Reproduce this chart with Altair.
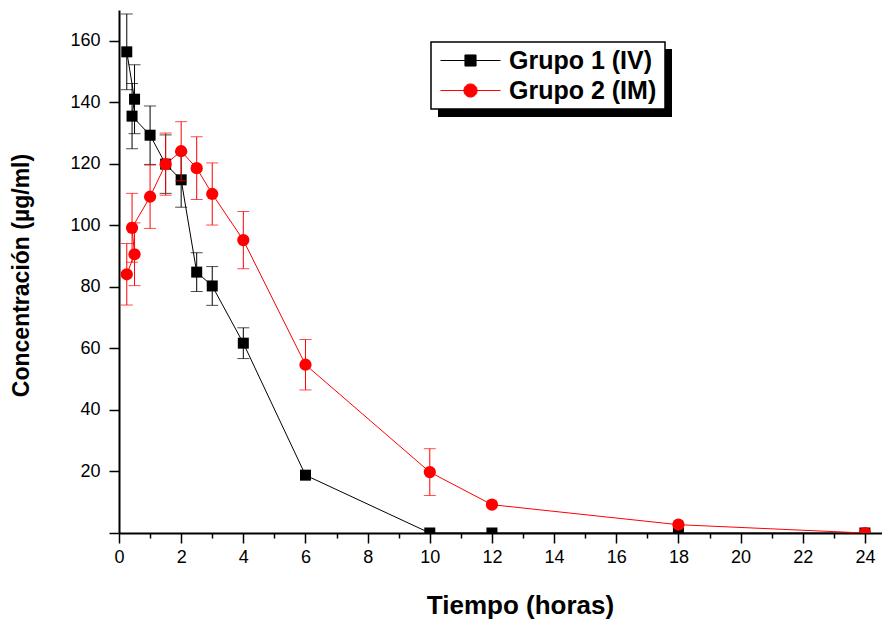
import altair as alt
import pandas as pd

# ---- data ----
time_h = [0.25, 0.5, 0.42, 1, 1.5, 2, 2.5, 3, 4, 6, 10, 12, 18, 24]
g1_mean = [156.4, 141.0, 135.5, 129.3, 119.9, 114.8, 84.8, 80.3, 61.7, 18.8, 0, 0, 0, 0]
g1_err = [12.3, 11.2, 10.6, 9.5, 9.5, 8.9, 6.3, 6.3, 5.0, 0, 0, 0, 0, 0]
g2_mean = [84.1, 90.6, 99.2, 109.3, 119.9, 124.1, 118.6, 110.2, 95.2, 54.7, 19.8, 9.2, 2.7, 0]
g2_err = [10.0, 10.2, 11.2, 10.3, 10.1, 9.6, 10.2, 10.1, 9.3, 8.2, 7.6, 0, 0, 0]
groups = ["Grupo 1 (IV)", "Grupo 2 (IM)"]
colors = ["black", "red"]
x_ticks = list(range(0, 25))
y_ticks = list(range(0, 171, 10))

FONT = "Liberation Sans"

rows = []
for g, means, errs in [(groups[0], g1_mean, g1_err), (groups[1], g2_mean, g2_err)]:
    for i, (t, m, e) in enumerate(zip(time_h, means, errs)):
        rows.append({"t": t, "mean": m, "err": e, "lo": m - e, "hi": m + e,
                     "group": g, "idx": i})
df = pd.DataFrame(rows)

x_enc = alt.X("t:Q", scale=alt.Scale(domain=[0, 24.55], nice=False, zero=False),
              axis=alt.Axis(values=x_ticks, title="Tiempo (horas)",
                            labelExpr="datum.value % 2 === 0 ? datum.label : ''",
                            tickSize={"condition": {"test": "datum.value % 2 === 0", "value": 10}, "value": 5},
                            labelPadding=5, labelOverlap=False, labelFlush=False,
                            titleFontSize=26, titleX=401, titleY=80,
                            titleAlign="center", titleBaseline="alphabetic"))
y_enc = alt.Y("mean:Q", scale=alt.Scale(domain=[0, 170], nice=False),
              axis=alt.Axis(values=y_ticks, title="Concentración (µg/ml)",
                            labelExpr="datum.value % 20 === 0 && datum.value > 0 ? datum.label : ''",
                            tickSize={"condition": {"test": "datum.value % 20 === 0", "value": 10}, "value": 5},
                            labelPadding=9, labelOverlap=False, labelFlush=False,
                            titleFontSize=23, titleX=-98, titleY=265, titleAngle=270,
                            titleAlign="center", titleBaseline="middle"))

sym_paths = [
    "M-1,0L1,0M-0.185,-0.185L0.185,-0.185L0.185,0.185L-0.185,0.185Z",
    "M-1,0L1,0M-0.22,0A0.22,0.22,0,1,1,0.22,0A0.22,0.22,0,1,1,-0.22,0Z",
]
legend_y = [20, 50]


def series_layers(k):
    g, col = groups[k], colors[k]
    base = alt.Chart(df).transform_filter(alt.datum.group == g)
    bars = base.transform_filter(alt.datum.err > 0)
    rule = bars.mark_rule(color=col, strokeWidth=1, clip=True).encode(
        x=x_enc, y=alt.Y("lo:Q"), y2="hi:Q")
    cap_hi = bars.mark_tick(color=col, orient="horizontal", size=12, thickness=1, clip=True).encode(
        x=x_enc, y=alt.Y("hi:Q"))
    cap_lo = bars.mark_tick(color=col, orient="horizontal", size=12, thickness=1, clip=True).encode(
        x=x_enc, y=alt.Y("lo:Q"))
    line = base.mark_line(strokeWidth=1, clip=True).encode(
        x=x_enc, y=y_enc, order=alt.Order("idx:Q"),
        color=alt.Color("group:N", scale=alt.Scale(domain=[g], range=[col]),
                        legend=alt.Legend(orient="none", legendX=321, legendY=legend_y[k],
                                          title=None, symbolType=sym_paths[k],
                                          symbolSize=3600, symbolFillColor=col,
                                          symbolStrokeColor=col, symbolStrokeWidth=1,
                                          symbolOpacity=1, labelFont=FONT, labelFontSize=25,
                                          labelFontWeight="bold", labelColor="black",
                                          labelOffset=8, labelLimit=400, padding=0)))
    pts = base.mark_point(shape="square" if k == 0 else "circle", filled=True, opacity=1,
                          size=121 if k == 0 else 150, color=col, clip=True).encode(
        x=x_enc, y=y_enc)
    return [rule, cap_hi, cap_lo, line, pts]


box_data = alt.Data(values=[{"a": 1}])
shadow = alt.Chart(box_data).mark_rect(fill="black").encode(
    x=alt.value(319), x2=alt.value(553), y=alt.value(39), y2=alt.value(107))
box = alt.Chart(box_data).mark_rect(fill="white", stroke="black", strokeWidth=1.5).encode(
    x=alt.value(312), x2=alt.value(546), y=alt.value(32), y2=alt.value(99))

chart = alt.layer(shadow, box, *series_layers(0), *series_layers(1)).resolve_scale(
    color="independent"
).properties(
    width=763, height=523,
    autosize=alt.AutoSizeParams(type="none"),
    padding={"left": 111, "top": 2, "right": 0, "bottom": 87},
).configure_view(stroke=None).configure_axis(
    grid=False, domainColor="black", domainWidth=2, tickColor="black", tickWidth=1.5,
    labelFont=FONT, labelFontSize=18, labelColor="black",
    titleFont=FONT, titleFontWeight="bold", titleColor="black",
)

chart.save("out.html", embed_options={"renderer": "svg", "actions": False})
